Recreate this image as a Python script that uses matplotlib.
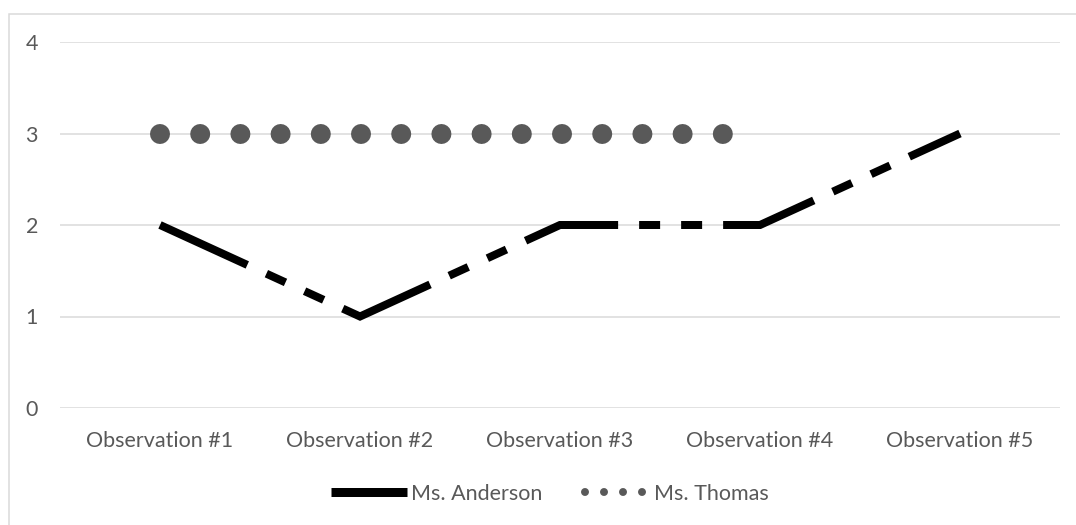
import numpy as np
import matplotlib
matplotlib.use("Agg")
import matplotlib.pyplot as plt
from matplotlib.lines import Line2D
from matplotlib.patches import Rectangle

categories = ["Observation #1", "Observation #2", "Observation #3", "Observation #4", "Observation #5"]
anderson = [2, 1, 2, 2, 3]
thomas = [3, 3, 3, 3, np.nan]
yticks = [0, 1, 2, 3, 4]

plt.rcParams['font.family'] = ['Lato', 'DejaVu Sans']
plt.rcParams['lines.scale_dashes'] = False

DPI = 100
W, H = 1076, 525
fig = plt.figure(figsize=(W / DPI, H / DPI), dpi=DPI)
px = 72.0 / DPI  # points per pixel

TXT = "#595959"
GRID = "#d9d9d9"
FS = 15.5

# chart area border (only top/left visible)
fig.patches.append(Rectangle((8.5 / W, -0.1), 1.2, 1.1 - 13.5 / H,
                             transform=fig.transFigure, fill=False,
                             edgecolor=GRID, linewidth=1.5 * px))

ax = fig.add_axes([60 / W, 1 - 408 / H, 1000 / W, (408 - 42) / H])
x = np.arange(len(categories))

ax.plot(x, anderson, color="black", linewidth=8 * px,
        linestyle=(0, (96 * px, 21 * px, 21 * px, 21 * px, 21 * px, 21 * px)),
        dash_capstyle="butt", solid_joinstyle="miter", dash_joinstyle="miter",
        zorder=3)
ax.plot(x, thomas, color=TXT, linewidth=20 * px,
        linestyle=(0, (0.001, 40.2 * px)), dash_capstyle="round", zorder=3)

ax.set_xlim(-0.5, len(categories) - 0.5)
ax.set_ylim(0, 4)
ax.set_yticks(yticks)
ax.set_yticklabels([str(v) for v in yticks])
ax.set_xticks(x)
ax.set_xticklabels(categories)
ax.grid(axis="y", color=GRID, linewidth=1.5 * px)
ax.set_axisbelow(True)
for s in ax.spines.values():
    s.set_visible(False)
ax.tick_params(axis="both", length=0, colors=TXT, labelsize=FS)
ax.tick_params(axis="y", pad=22 * px)
ax.tick_params(axis="x", pad=23 * px)

handles = [
    Line2D([0], [0], color="black", linewidth=9 * px, solid_capstyle="butt"),
    Line2D([0], [0], color=TXT, linewidth=8 * px,
           linestyle=(8 * px, (0.001, 19 * px)), dash_capstyle="round"),
]
fs_px = FS / px
leg = fig.legend(handles, ["Ms. Anderson", "Ms. Thomas"], ncol=2, frameon=False,
                 loc="center", bbox_to_anchor=(550 / W, 1 - 494 / H),
                 fontsize=FS, labelcolor=TXT,
                 handlelength=76 / fs_px, handletextpad=4 / fs_px,
                 columnspacing=32 / fs_px)

fig.savefig("out.png", dpi=DPI)
